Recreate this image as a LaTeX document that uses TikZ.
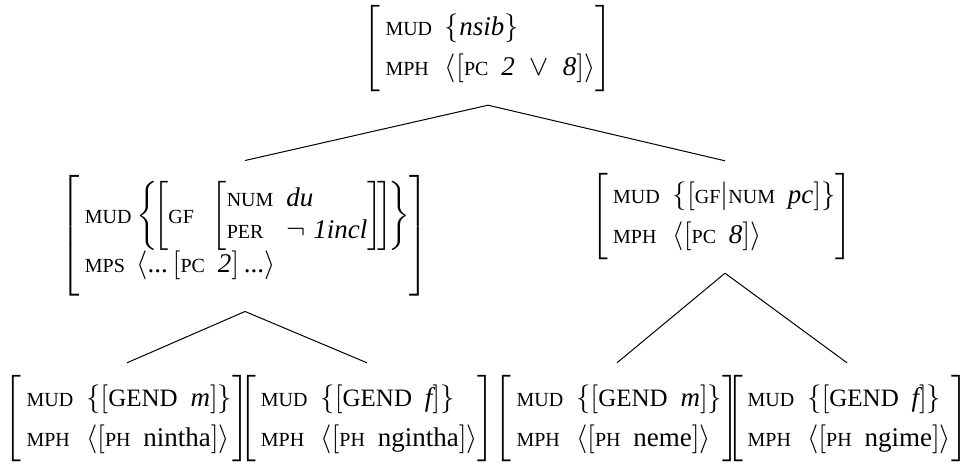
\documentclass[tikz,border=0pt]{standalone}
\usepackage{amsmath}
\usepackage{fontspec}
\setmainfont{Liberation Serif}
\usetikzlibrary{
  arrows.meta,
  positioning
}
\usepackage{xcolor}
% feature names, values and struts
\newcommand{\ft}[1]{\mbox{\fontsize{10}{11}\selectfont #1}}
\newcommand{\bigft}[1]{\mbox{\fontsize{12.5}{13}\selectfont #1}}
\newcommand{\vl}[1]{\mbox{\itshape #1}}
\newcommand{\sv}{\rule[-3.5pt]{0pt}{13.5pt}}
\newcommand{\avmrow}{\\[4pt]}
\newcommand{\avmtop}{\rule{0pt}{15pt}}
\newcommand{\avmbot}{\rule[-8pt]{0pt}{8pt}}
\newcommand{\fs}{\;\,}

\begin{document}
\begin{tikzpicture}[
  x=0.5pt, y=-0.5pt,
  avm/.style={inner sep=0pt, outer ysep=6.5pt, font=\fontsize{13.5}{16}\selectfont},
  branch/.style={line width=0.5pt}
]
  \useasboundingbox (0,0) rectangle (964,470);

  % Mother
  \node[avm] (top) at (488,49) {$\left[\begin{array}{@{\,}l@{\fs}l@{}}
    \avmtop\ft{MUD} & \left\{\sv\vl{nsib}\right\} \avmrow
    \avmbot\ft{MPH} & \left\langle\left[\sv\ft{PC}\fs\vl{2}\;\vee\;\vl{8}\right]\right\rangle
    \end{array}\right]$};

  % Daughters
  \node[avm, outer ysep=7.5pt] (dual) at (245,236) {$\left[\begin{array}{@{\,}l@{\,}l@{}}
    \rule{0pt}{22pt}\ft{MUD} & \left\{\!\left[\ft{GF}\fs\left[\begin{array}{@{}l@{\fs}l@{}}
      \ft{NUM} & \vl{du}\\
      \ft{PER} & \neg\;\vl{1incl}
      \end{array}\right]\!\right]\!\right\} \\[6pt]
    \rule[-10pt]{0pt}{10pt}\ft{MPS} & \left\langle\mbox{...}\left[\sv\ft{PC}\fs\vl{2}\right]\mbox{...}\right\rangle
    \end{array}\right]$};
  \node[avm] (pauc) at (725,217) {$\left[\begin{array}{@{\,}l@{\fs}l@{}}
    \avmtop\ft{MUD} & \left\{\left[\sv\ft{GF}|\ft{NUM}\fs\vl{pc}\right]\right\} \avmrow
    \avmbot\ft{MPH} & \left\langle\left[\sv\ft{PC}\fs\vl{8}\right]\right\rangle
    \end{array}\right]\hspace{3pt}$};

  % Leaves
  \node[avm] (nintha) at (127,419) {$\left[\begin{array}{@{\,}l@{\fs}l@{}}
    \avmtop\ft{MUD} & \left\{\left[\sv\bigft{GEND}\fs\vl{m}\right]\right\} \avmrow
    \avmbot\ft{MPH} & \left\langle\left[\sv\ft{PH}\fs\mbox{nintha}\right]\right\rangle
    \end{array}\right]$};
  \node[avm] (ngintha) at (367,419) {$\left[\begin{array}{@{\,}l@{\fs}l@{}}
    \avmtop\ft{MUD} & \left\{\left[\sv\bigft{GEND}\fs\vl{f}\right]\right\} \avmrow
    \avmbot\ft{MPH} & \left\langle\left[\sv\ft{PH}\fs\mbox{ngintha}\right]\right\rangle
    \end{array}\right]$};
  \node[avm] (neme) at (617,419) {$\left[\begin{array}{@{\,}l@{\fs}l@{}}
    \avmtop\ft{MUD} & \left\{\left[\sv\bigft{GEND}\fs\vl{m}\right]\right\} \avmrow
    \avmbot\ft{MPH} & \left\langle\left[\sv\ft{PH}\fs\mbox{neme}\right]\right\rangle
    \end{array}\right]$};
  \node[avm] (ngime) at (847,419) {$\left[\begin{array}{@{\,}l@{\fs}l@{}}
    \avmtop\ft{MUD} & \left\{\left[\sv\bigft{GEND}\fs\vl{f}\right]\right\} \avmrow
    \avmbot\ft{MPH} & \left\langle\left[\sv\ft{PH}\fs\mbox{ngime}\right]\right\rangle
    \end{array}\right]$};

  % Branches
  \draw[branch] (top.south) -- (dual.north);
  \draw[branch] (top.south) -- (pauc.north);
  \draw[branch] (dual.south) -- (nintha.north);
  \draw[branch] (dual.south) -- (ngintha.north);
  \draw[branch] (pauc.south) -- (neme.north);
  \draw[branch] (pauc.south) -- (ngime.north);

\end{tikzpicture}
\end{document}
